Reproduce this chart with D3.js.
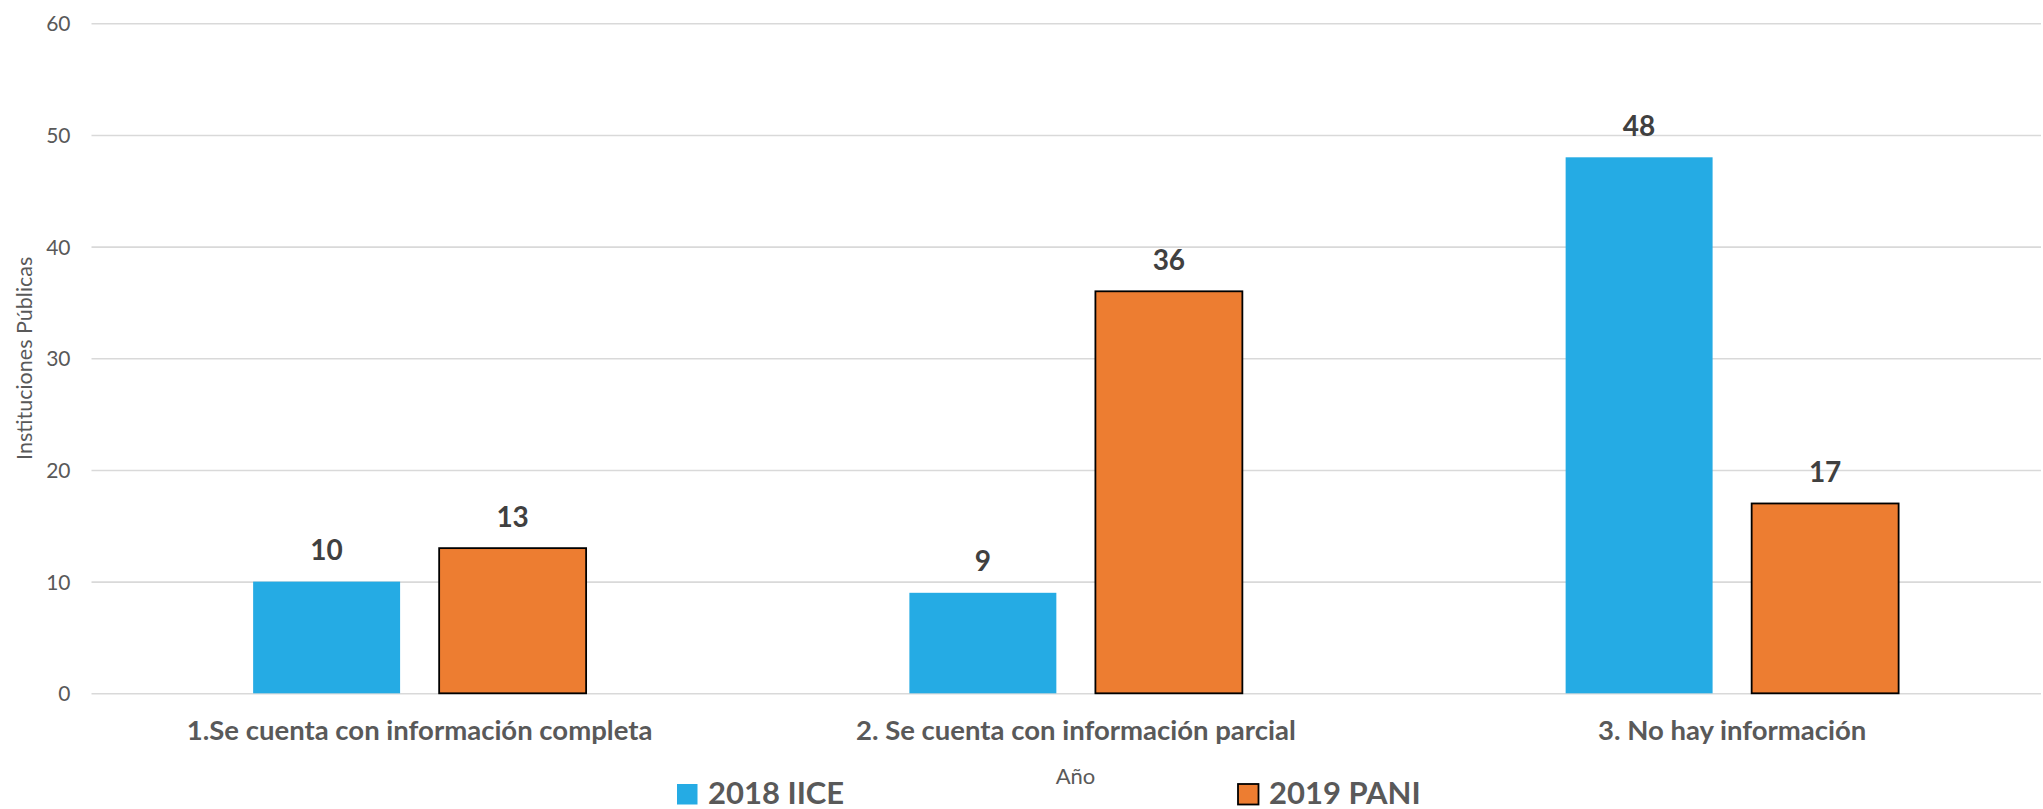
<!DOCTYPE html>
<html>
<head>
<meta charset="utf-8">
<script src="https://cdn.jsdelivr.net/npm/d3@7"></script>
<style>
  html, body { margin: 0; padding: 0; background: #fff; }
  svg { display: block; }
</style>
</head>
<body>
<svg id="chart" width="2043" height="809"></svg>
<script>
const categories = ["1.Se cuenta con información completa", "2. Se cuenta con información parcial", "3. No hay información"];
const seriesNames = ["2018 IICE", "2019 PANI"];
const values2018 = [10, 9, 48];
const values2019 = [13, 36, 17];
const yTicks = [0, 10, 20, 30, 40, 50, 60];
const yTitle = "Instituciones Públicas";
const xTitle = "Año";

const colors = { "2018 IICE": "#25ABE4", "2019 PANI": "#ED7D31" };
const strokes = { "2018 IICE": "none", "2019 PANI": "#000" };

(function () {
const svg = d3.select("#chart");
const plotLeft = 91.5, plotRightEnd = 2060.25, plotTop = 23.3, plotBottom = 693.3;

const data = categories.map((c, i) => ({ cat: c, vals: [
  { s: seriesNames[0], v: values2018[i] },
  { s: seriesNames[1], v: values2019[i] }
]}));

const x0 = d3.scaleBand().domain(categories).range([plotLeft, plotRightEnd]).paddingInner(0.4926).paddingOuter(0.2463);
const x1 = d3.scaleBand().domain(seriesNames).range([0, x0.bandwidth()]).paddingInner(0.21).paddingOuter(0);
const y = d3.scaleLinear().domain([0, 60]).range([plotBottom, plotTop]);

const font = "Lato, 'Open Sans', sans-serif";

// gridlines + tick labels
const yAxis = d3.axisLeft(y).tickValues(yTicks).tickSize(-(2041 - plotLeft)).tickPadding(21).tickFormat(d3.format("d"));
const gAxis = svg.append("g").attr("transform", `translate(${plotLeft},0)`).call(yAxis);
gAxis.select(".domain").remove();
gAxis.selectAll(".tick line").attr("stroke", "#d9d9d9").attr("stroke-width", 1.6);
gAxis.selectAll(".tick text").attr("fill", "#595959").attr("font-family", font).attr("font-size", 21).attr("dy", "0.36em");

// bars
const groups = svg.append("g").selectAll("g").data(data).join("g")
  .attr("transform", d => `translate(${x0(d.cat)},0)`);

groups.selectAll("rect").data(d => d.vals).join("rect")
  .attr("x", d => x1(d.s))
  .attr("y", d => y(d.v))
  .attr("width", x1.bandwidth())
  .attr("height", d => y(0) - y(d.v))
  .attr("fill", d => colors[d.s])
  .attr("stroke", d => strokes[d.s])
  .attr("stroke-width", 1.8);

groups.selectAll("text.val").data(d => d.vals).join("text")
  .attr("class", "val")
  .attr("x", d => x1(d.s) + x1.bandwidth() / 2)
  .attr("y", d => y(d.v) - 21.5)
  .attr("text-anchor", "middle")
  .attr("font-family", font)
  .attr("font-weight", "bold")
  .attr("font-size", 28)
  .attr("fill", "#404040")
  .text(d => d.v);

// category labels
svg.append("g").selectAll("text").data(categories).join("text")
  .attr("x", d => x0(d) + x0.bandwidth() / 2)
  .attr("y", 739.5)
  .attr("text-anchor", "middle")
  .attr("font-family", font)
  .attr("font-weight", "bold")
  .attr("font-size", 27.5)
  .attr("fill", "#595959")
  .text(d => d);

// axis titles
svg.append("text")
  .attr("transform", `translate(31.5,${(plotTop + plotBottom) / 2}) rotate(-90)`)
  .attr("text-anchor", "middle")
  .attr("font-family", font)
  .attr("font-size", 21.5)
  .attr("fill", "#595959")
  .text(yTitle);

svg.append("text")
  .attr("x", 1075.5)
  .attr("y", 783.5)
  .attr("text-anchor", "middle")
  .attr("font-family", font)
  .attr("font-size", 22)
  .attr("fill", "#595959")
  .text(xTitle);

// legend
const legendPos = [{ s: seriesNames[0], x: 677 }, { s: seriesNames[1], x: 1238 }];
const lg = svg.append("g").selectAll("g").data(legendPos).join("g")
  .attr("transform", d => `translate(${d.x},784)`);
lg.append("rect")
  .attr("x", 0).attr("y", 0).attr("width", 20.5).attr("height", 20.5)
  .attr("fill", d => colors[d.s])
  .attr("stroke", d => strokes[d.s])
  .attr("stroke-width", 1.8);
lg.append("text")
  .attr("x", 31)
  .attr("y", 19.5)
  .attr("font-family", font)
  .attr("font-weight", "bold")
  .attr("font-size", 31)
  .attr("fill", "#595959")
  .text(d => d.s);
})();
</script>
</body>
</html>
